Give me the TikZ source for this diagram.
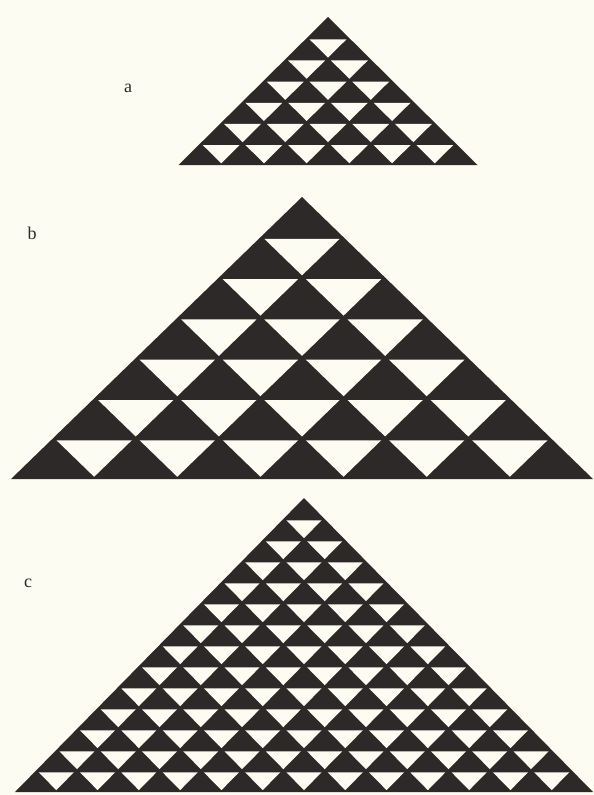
\documentclass[tikz,border=0pt]{standalone}
\usepackage{fontspec}
\setmainfont{Liberation Serif}
\usetikzlibrary{positioning}

\definecolor{paper}{RGB}{253,252,242}
\definecolor{ink}{RGB}{44,41,40}

% #1 apex x, #2 apex y, #3 base width, #4 height, #5 rows, #6 gap
\newcommand{\drawpyramid}[6]{%
  \fill[dark] (#1,#2) -- ++(-#3/2,#4) -- ++(#3,0) -- cycle;
  \pgfmathsetmacro{\rw}{#3/#5}
  \pgfmathsetmacro{\rh}{#4/#5}
  \pgfmathsetmacro{\rin}{\rw*\rh/(\rw+2*sqrt(\rw*\rw/4+\rh*\rh))}
  \pgfmathsetmacro{\sc}{(\rin-#6)/\rin}
  \pgfmathtruncatemacro{\rlast}{#5-1}
  \foreach \r in {1,...,\rlast}{
    \foreach \j in {1,...,\r}{
      \fill[hole,shift={({#1+(\j-0.5-\r/2)*\rw},{#2+\r*\rh+\rin})},scale=\sc]
        ({-\rw/2},{-\rin}) -- ({\rw/2},{-\rin}) -- (0,{\rh-\rin}) -- cycle;
    }
  }
}

\begin{document}
\begin{tikzpicture}[
 x=1pt,y=-1pt,
 dark/.style={fill=ink},
 hole/.style={fill=paper},
 tag/.style={font=\fontsize{18}{20}\selectfont,text=ink,inner sep=0pt}
]
\fill[paper] (0,0) rectangle (594,795);
\useasboundingbox (0,0) rectangle (594,795);

% a
\drawpyramid{328}{17}{299}{148}{7}{1.2}
\node[tag] (la) at (128,88) {a};

% b
\drawpyramid{302}{197}{582}{282}{7}{1.6}
\node[tag] (lb) at (32,233) {b};

% c
\drawpyramid{304}{498}{578}{294}{14}{1.3}
\node[tag] (lc) at (28,583) {c};
\end{tikzpicture}
\end{document}
